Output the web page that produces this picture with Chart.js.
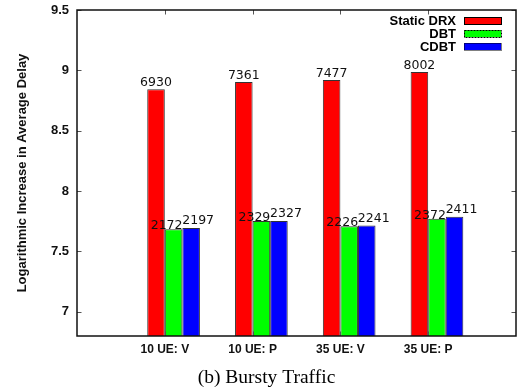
<!DOCTYPE html>
<html>
<head>
<meta charset="utf-8">
<script src="https://cdn.jsdelivr.net/npm/chart.js@4/dist/chart.umd.min.js"></script>
<style>
  html, body { margin: 0; padding: 0; background: #fff; }
  #wrap { width: 519px; height: 391px; }
</style>
</head>
<body>
<div id="wrap"><canvas id="c" width="519" height="391"></canvas></div>
<script>
// Average delay per scenario (the bars show the natural log of these)
const categories = ['10 UE: V', '10 UE: P', '35 UE: V', '35 UE: P'];
const staticDrx = [6930, 7361, 7477, 8002];
const dbt = [2172, 2329, 2226, 2372];
const cdbt = [2197, 2327, 2241, 2411];
const yTicks = [7, 7.5, 8, 8.5, 9, 9.5];
const Y_MIN = 6.8;
const Y_MAX = 9.5;

// The first bar of each cluster ends on the tick, so clusters sit slightly right of it
const GROUP_SHIFT = 0.1;

function toPoints(values) {
  return values.map((v, i) => ({ x: i + 1 + GROUP_SHIFT, y: Math.log(v) }));
}

const SANS = '"Liberation Sans", Arial, sans-serif';

const series = [
  { label: 'Static DRX', delays: staticDrx, color: '#ff0000', dash: [], labelDx: 0, labelGap: 3 },
  { label: 'DBT', delays: dbt, color: '#00ff00', dash: [2, 1], labelDx: -7, labelGap: 0 },
  { label: 'CDBT', delays: cdbt, color: '#0000ff', dash: [1, 1], labelDx: 7, labelGap: 4 }
];

// Frame with inward tick marks on all four sides
const framePlugin = {
  id: 'frame',
  afterDatasetsDraw(chart) {
    const { ctx, chartArea: a, scales } = chart;
    ctx.save();
    ctx.strokeStyle = '#555';
    ctx.lineWidth = 1;
    const t = 4.5;
    ctx.beginPath();
    scales.y.ticks.forEach(tk => {
      const py = Math.round(scales.y.getPixelForValue(tk.value)) + 0.5;
      ctx.moveTo(a.left, py); ctx.lineTo(a.left + t, py);
      ctx.moveTo(a.right, py); ctx.lineTo(a.right - t, py);
    });
    scales.x.ticks.forEach(tk => {
      const px = Math.round(scales.x.getPixelForValue(tk.value)) + 0.5;
      ctx.moveTo(px, a.top); ctx.lineTo(px, a.top + t);
      ctx.moveTo(px, a.bottom); ctx.lineTo(px, a.bottom - t);
    });
    ctx.stroke();
    ctx.strokeStyle = '#111';
    ctx.lineWidth = 1.5;
    ctx.strokeRect(a.left, a.top, a.right - a.left, a.bottom - a.top);
    ctx.restore();
  }
};

// Delay values written above each bar
const valueLabels = {
  id: 'valueLabels',
  afterDatasetsDraw(chart) {
    const { ctx } = chart;
    ctx.save();
    ctx.font = '12.5px "DejaVu Sans", sans-serif';
    ctx.fillStyle = '#111';
    ctx.textAlign = 'center';
    ctx.textBaseline = 'alphabetic';
    chart.data.datasets.forEach((ds, di) => {
      const meta = chart.getDatasetMeta(di);
      meta.data.forEach((el, i) => {
        ctx.fillText(String(ds.delays[i]), el.x + ds.labelDx, el.y - ds.labelGap);
      });
    });
    ctx.restore();
  }
};

// Key in the upper right: right-aligned names followed by a sample swatch
const keyPlugin = {
  id: 'key',
  afterDraw(chart) {
    const { ctx, chartArea: a } = chart;
    ctx.save();
    ctx.font = 'bold 13px ' + SANS;
    ctx.textAlign = 'right';
    ctx.textBaseline = 'middle';
    chart.data.datasets.forEach((ds, i) => {
      const cy = a.top + 10.7 + i * 12.9;
      ctx.fillStyle = '#000';
      ctx.fillText(ds.label, a.right - 60, cy + 0.5);
      const bx = a.right - 52, bw = 37, bh = 7;
      ctx.fillStyle = ds.backgroundColor;
      ctx.fillRect(bx, cy - bh / 2, bw, bh);
      ctx.strokeStyle = '#000';
      ctx.lineWidth = 1;
      ctx.setLineDash(ds.dash);
      ctx.strokeRect(bx + 0.5, Math.round(cy - bh / 2) + 0.5, bw, bh);
      ctx.setLineDash([]);
    });
    ctx.restore();
  }
};

// Sub-figure caption under the axis
const captionPlugin = {
  id: 'caption',
  afterDraw(chart) {
    const { ctx } = chart;
    ctx.save();
    ctx.font = '19.5px "Liberation Serif", "Times New Roman", serif';
    ctx.fillStyle = '#000';
    ctx.textAlign = 'center';
    ctx.textBaseline = 'alphabetic';
    ctx.fillText('(b) Bursty Traffic', chart.width / 2 + 7, chart.height - 8.5);
    ctx.restore();
  }
};

const chart = new Chart(document.getElementById('c'), {
  type: 'bar',
  data: {
    datasets: series.map(s => ({
      label: s.label,
      data: toPoints(s.delays),
      delays: s.delays,
      dash: s.dash,
      labelDx: s.labelDx,
      labelGap: s.labelGap,
      backgroundColor: s.color,
      borderColor: '#333',
      borderWidth: 1,
      base: Y_MIN,
      categoryPercentage: 0.6,
      barPercentage: 1.0
    }))
  },
  options: {
    responsive: false,
    animation: false,
    devicePixelRatio: 1,
    layout: { padding: { top: 10, right: 3, left: 0, bottom: 0 } },
    plugins: {
      legend: { display: false },
      tooltip: { enabled: false },
      title: { display: false }
    },
    scales: {
      x: {
        type: 'linear',
        min: 0,
        max: 5,
        offset: false,
        grid: { display: false, drawTicks: false, offset: false },
        border: { display: false },
        afterBuildTicks(scale) {
          scale.ticks = categories.map((c, i) => ({ value: i + 1 }));
        },
        afterFit(scale) {
          scale.height = 55;
          scale.paddingLeft = 0;
          scale.paddingRight = 0;
        },
        ticks: {
          padding: 6,
          maxRotation: 0,
          autoSkip: false,
          color: '#111',
          font: { family: SANS, size: 12, weight: 'bold' },
          callback: (v) => categories[Math.round(v) - 1]
        }
      },
      y: {
        min: Y_MIN,
        max: Y_MAX,
        grid: { display: false, drawTicks: false },
        border: { display: false },
        afterBuildTicks(scale) {
          scale.ticks = yTicks.map(v => ({ value: v }));
        },
        afterFit(scale) {
          scale.width = 77;
          scale.paddingTop = 0;
          scale.paddingBottom = 0;
        },
        ticks: {
          padding: 8,
          color: '#111',
          font: { family: SANS, size: 13, weight: 'bold' },
          callback: (v) => String(v)
        },
        title: {
          display: true,
          text: 'Logarithmic Increase in Average Delay',
          color: '#111',
          font: { family: SANS, size: 13, weight: 'bold' },
          padding: { top: 15, bottom: 4 }
        }
      }
    }
  },
  plugins: [framePlugin, valueLabels, keyPlugin, captionPlugin]
});
</script>
</body>
</html>
